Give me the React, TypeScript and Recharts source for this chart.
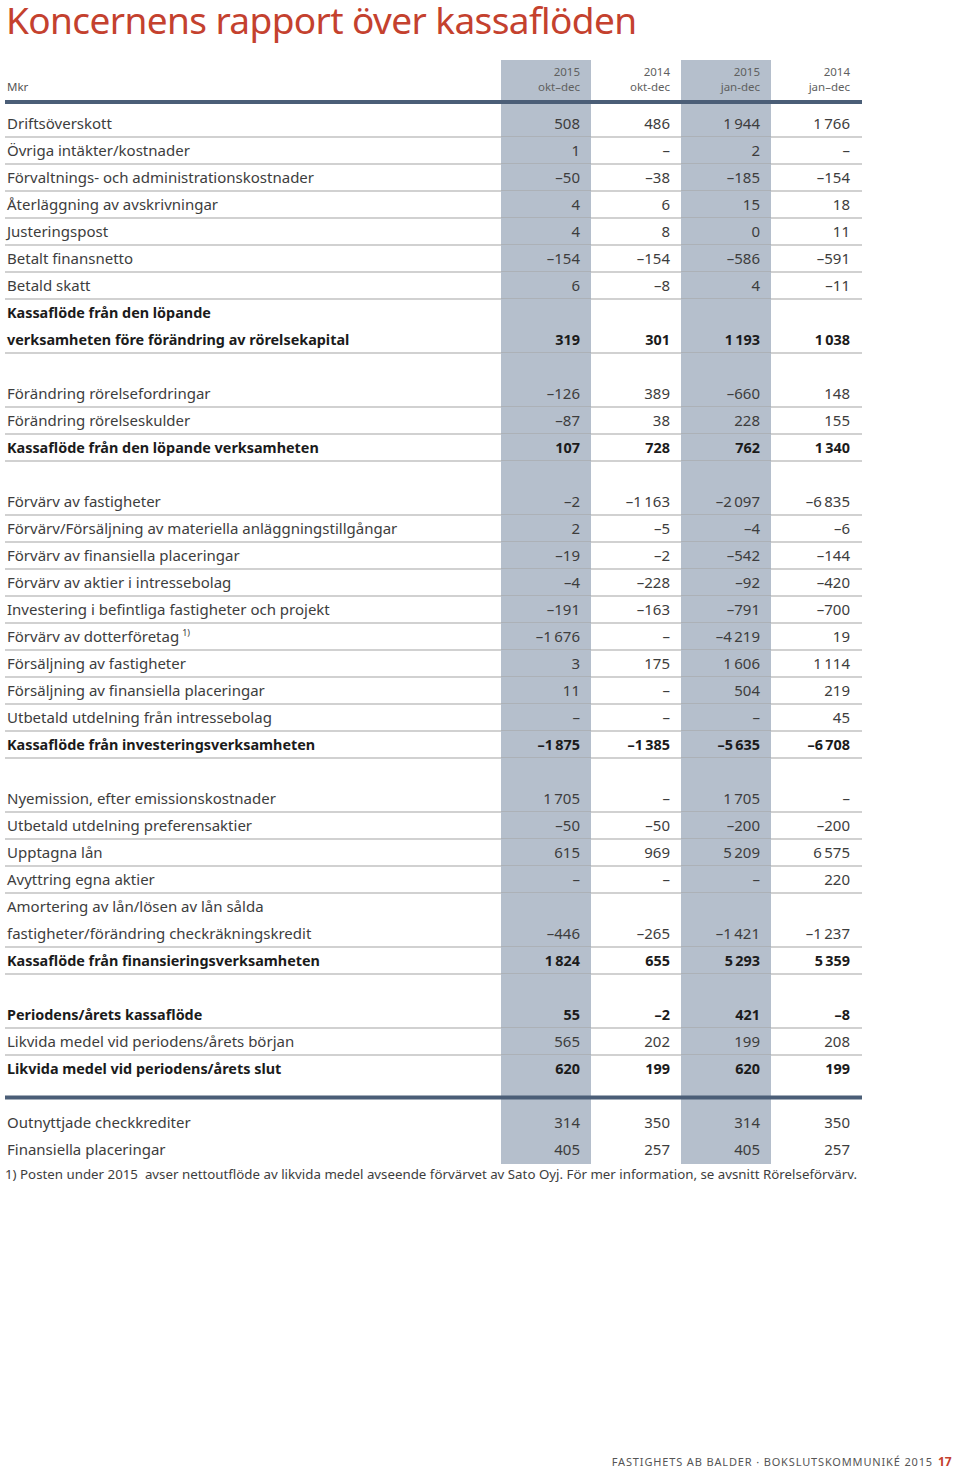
import React from 'react';
import { ComposedChart, Bar, XAxis, YAxis } from 'recharts';

const FONT = '"Noto Sans", "Open Sans", sans-serif';
const INK = '#3d3d3d';
const INK_BOLD = '#1b1b1b';
const SHADE = '#b5bfcc';
const RULE = '#a3a3a3';
const NAVY = '#4b5e77';
const RED = '#c4412e';

const X = undefined; // cell without a figure

const rowLabels = [
  'Driftsöverskott',
  'Övriga intäkter/kostnader',
  'Förvaltnings- och administrationskostnader',
  'Återläggning av avskrivningar',
  'Justeringspost',
  'Betalt finansnetto',
  'Betald skatt',
  'Kassaflöde från den löpande',
  'verksamheten före förändring av rörelsekapital',
  '',
  'Förändring rörelsefordringar',
  'Förändring rörelseskulder',
  'Kassaflöde från den löpande verksamheten',
  '',
  'Förvärv av fastigheter',
  'Förvärv/Försäljning av materiella anläggningstillgångar',
  'Förvärv av finansiella placeringar',
  'Förvärv av aktier i intressebolag',
  'Investering i befintliga fastigheter och projekt',
  'Förvärv av dotterföretag',
  'Försäljning av fastigheter',
  'Försäljning av finansiella placeringar',
  'Utbetald utdelning från intressebolag',
  'Kassaflöde från investeringsverksamheten',
  '',
  'Nyemission, efter emissionskostnader',
  'Utbetald utdelning preferensaktier',
  'Upptagna lån',
  'Avyttring egna aktier',
  'Amortering av lån/lösen av lån sålda',
  'fastigheter/förändring checkräkningskredit',
  'Kassaflöde från finansieringsverksamheten',
  '',
  'Periodens/årets kassaflöde',
  'Likvida medel vid periodens/årets början',
  'Likvida medel vid periodens/årets slut',
  '',
  'Outnyttjade checkkrediter',
  'Finansiella placeringar',
];

// n = normal + rule, b = bold + rule, bh / nh = label only, g = gap,
// bx / nx = no rule below, t = thick rule
const rowKinds = [
  'n', 'n', 'n', 'n', 'n', 'n', 'n', 'bh', 'b', 'g',
  'n', 'n', 'b', 'g',
  'n', 'n', 'n', 'n', 'n', 'n', 'n', 'n', 'n', 'b', 'g',
  'n', 'n', 'n', 'n', 'nh', 'n', 'b', 'g',
  'b', 'n', 'bx', 't',
  'nx', 'nx',
];

const footnoteRows = [19];

// null = dash
const okt2015 = [
  508, 1, -50, 4, 4, -154, 6, X, 319, X,
  -126, -87, 107, X,
  -2, 2, -19, -4, -191, -1676, 3, 11, null, -1875, X,
  1705, -50, 615, null, X, -446, 1824, X,
  55, 565, 620, X,
  314, 405,
];
const okt2014 = [
  486, null, -38, 6, 8, -154, -8, X, 301, X,
  389, 38, 728, X,
  -1163, -5, -2, -228, -163, null, 175, null, null, -1385, X,
  null, -50, 969, null, X, -265, 655, X,
  -2, 202, 199, X,
  350, 257,
];
const jan2015 = [
  1944, 2, -185, 15, 0, -586, 4, X, 1193, X,
  -660, 228, 762, X,
  -2097, -4, -542, -92, -791, -4219, 1606, 504, null, -5635, X,
  1705, -200, 5209, null, X, -1421, 5293, X,
  421, 199, 620, X,
  314, 405,
];
const jan2014 = [
  1766, null, -154, 18, 11, -591, -11, X, 1038, X,
  148, 155, 1340, X,
  -6835, -6, -144, -420, -700, 19, 1114, 219, 45, -6708, X,
  null, -200, 6575, 220, X, -1237, 5359, X,
  -8, 208, 199, X,
  350, 257,
];

const colYears = ['2015', '2014', '2015', '2014'];
const colPeriods = ['okt–dec', 'okt-dec', 'jan-dec', 'jan–dec'];
const columns = [okt2015, okt2014, jan2015, jan2014];
const shadedCols = [0, 2];

const rows = rowLabels.map((label, i) => ({
  id: `r${i}`,
  label,
  kind: rowKinds[i],
  values: columns.map((c) => c[i]),
}));

const fmt = (v: number | null | undefined) => {
  if (v === undefined) return '';
  if (v === null) return '–';
  const s = Math.abs(v).toString().replace(/\B(?=(\d{3})+(?!\d))/g, '\u2009');
  return v < 0 ? `–${s}` : s;
};

const isBold = (k: string) => k.startsWith('b');
const hasRule = (k: string) => k === 'n' || k === 'b';

// table geometry
const LEFT = 5;
const COLS_X = 501;
const COL_W = 90;
const RIGHT = 862;

const textProps = (kind: string) => ({
  fontFamily: FONT,
  fontSize: isBold(kind) ? 14.4 : 15,
  fontWeight: isBold(kind) ? 700 : 400,
  fill: isBold(kind) ? INK_BOLD : INK,
});

function RowLabel(props: any) {
  const { y, index } = props;
  const row = rows[index];
  if (!row) return null;
  const bottom = y + 13.5;
  return (
    <g>
      {row.label && (
        <text x={7} y={y + 5} {...textProps(row.kind)}>
          {row.label}
          {footnoteRows.includes(index) && (
            <tspan fontSize={9} dy={-6} dx={3}>1)</tspan>
          )}
        </text>
      )}
      {hasRule(row.kind) && (
        <line x1={LEFT} x2={COLS_X} y1={bottom} y2={bottom} stroke={RULE} strokeWidth={1} />
      )}
      {row.kind === 't' && <rect x={LEFT} y={y} width={COLS_X - LEFT} height={4} fill={NAVY} />}
    </g>
  );
}

function TableCell(props: any) {
  const { x, y, width, height, payload, col } = props;
  const row = payload;
  const text = fmt(row.values[col]);
  const mid = y + height / 2;
  return (
    <g>
      {shadedCols.includes(col) && (
        <rect x={x} y={y} width={width} height={height + 0.6} fill={SHADE} shapeRendering="crispEdges" />
      )}
      {text && (
        <text x={x + width - 11} y={mid + 5} textAnchor="end" {...textProps(row.kind)}>
          {text}
        </text>
      )}
      {hasRule(row.kind) && (
        <line x1={x} x2={col === 3 ? RIGHT : x + width} y1={y + height} y2={y + height} stroke={RULE} strokeWidth={1} />
      )}
      {row.kind === 't' && (
        <rect x={x} y={mid} width={col === 3 ? RIGHT - x : width} height={4} fill={NAVY} />
      )}
    </g>
  );
}

function Overlay() {
  return (
    <svg
      width={960}
      height={1475}
      style={{ position: 'absolute', left: 0, top: 0, pointerEvents: 'none' }}
    >
      <text x={6} y={34} fontFamily={FONT} fontSize={37} letterSpacing={-0.6} fill={RED}>
        Koncernens rapport över kassaflöden
      </text>
      {shadedCols.map((c) => (
        <rect key={c} x={COLS_X + c * COL_W} y={60} width={COL_W} height={51} fill={SHADE} />
      ))}
      <text x={7} y={91} fontFamily={FONT} fontSize={11.5} fill="#555">Mkr</text>
      {colYears.map((yr, j) => (
        <g key={j} fontFamily={FONT} fontSize={11.5} fill="#5f5f5f" textAnchor="end">
          <text x={COLS_X + (j + 1) * COL_W - 11} y={76}>{yr}</text>
          <text x={COLS_X + (j + 1) * COL_W - 11} y={91}>{colPeriods[j]}</text>
        </g>
      ))}
      <rect x={LEFT} y={100} width={RIGHT - LEFT} height={4} fill={NAVY} />
      <text x={5} y={1179} fontFamily={FONT} fontSize={13.3} fill={INK}>
        {'1) Posten under 2015\u00a0 avser nettoutflöde av likvida medel avseende förvärvet av Sato Oyj. För mer information, se avsnitt Rörelseförvärv.'}
      </text>
      <text x={933} y={1466} textAnchor="end" fontFamily={FONT} fontSize={11} fill="#555" letterSpacing={0.85}>
        FASTIGHETS AB BALDER · BOKSLUTSKOMMUNIKÉ 2015
      </text>
      <text x={938} y={1466} fontFamily={FONT} fontSize={12} fontWeight={700} fill={RED}>17</text>
    </svg>
  );
}

export default function App() {
  return (
    <div style={{ position: 'absolute', left: 0, top: 0, width: 960, height: 1475, background: '#fff' }}>
      <ComposedChart
        width={960}
        height={1475}
        data={rows}
        layout="vertical"
        margin={{ top: 110, right: 960 - COLS_X - 4 * COL_W, bottom: 1475 - 110 - 27 * rows.length, left: LEFT }}
        barCategoryGap={0}
        barGap={0}
      >
        <XAxis type="number" domain={[0, 4]} hide />
        <YAxis
          type="category"
          dataKey="id"
          width={COLS_X - LEFT}
          interval={0}
          tickLine={false}
          axisLine={false}
          tick={(p: any) => <RowLabel {...p} />}
        />
        {columns.map((_, j) => (
          <Bar
            key={j}
            stackId="cols"
            dataKey={() => 1}
            isAnimationActive={false}
            shape={(p: any) => <TableCell {...p} col={j} />}
          />
        ))}
      </ComposedChart>
      <Overlay />
    </div>
  );
}
